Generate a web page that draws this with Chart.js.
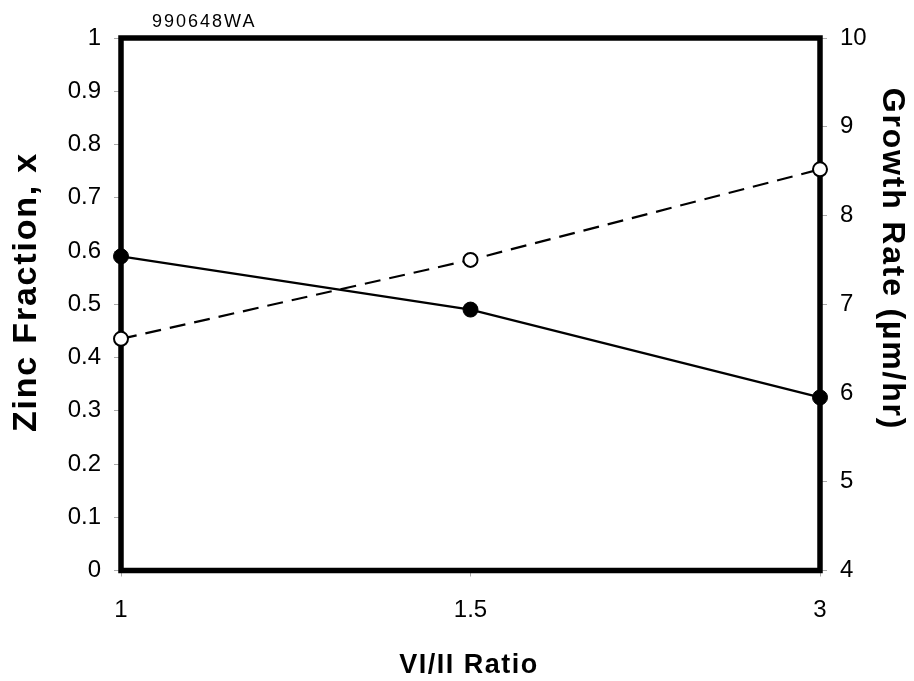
<!DOCTYPE html>
<html>
<head>
<meta charset="utf-8">
<script src="https://cdn.jsdelivr.net/npm/chart.js@4"></script>
<style>
  html, body { margin: 0; padding: 0; background: #fff; }
  #wrap { position: relative; width: 914px; height: 681px; }
</style>
</head>
<body>
<div id="wrap"><canvas id="zincChart" width="914" height="681"></canvas></div>
<script>
// data
const ratioLabels = ['1', '1.5', '3'];
const zincFraction = [0.59, 0.49, 0.325];   // left axis, solid line, filled dots
const growthRate = [6.61, 7.5, 8.52];       // right axis, dashed line, open dots
const leftTicks = [0, 0.1, 0.2, 0.3, 0.4, 0.5, 0.6, 0.7, 0.8, 0.9, 1];
const rightTicks = [4, 5, 6, 7, 8, 9, 10];

const FONT = '"Liberation Sans", Arial, sans-serif';

// thick frame round the plot + the wide-set titles
const framePlugin = {
  id: 'frame',
  beforeDatasetsDraw(chart) {
    const a = chart.chartArea, ctx = chart.ctx;
    ctx.save();
    ctx.strokeStyle = '#000';
    ctx.lineWidth = 5.5;
    ctx.strokeRect(a.left, a.top, a.right - a.left, a.bottom - a.top);
    ctx.restore();
  },
  afterDraw(chart) {
    const ctx = chart.ctx;
    ctx.save();
    ctx.fillStyle = '#000';
    ctx.textBaseline = 'alphabetic';

    ctx.font = '18px ' + FONT;
    ctx.letterSpacing = '2px';
    ctx.textAlign = 'left';
    ctx.fillText('990648WA', 152, 27);

    ctx.font = 'bold 27px ' + FONT;
    ctx.letterSpacing = '1.5px';
    ctx.textAlign = 'center';
    ctx.fillText('VI/II Ratio', 469, 673);

    ctx.save();
    ctx.translate(36, 292);
    ctx.rotate(-Math.PI / 2);
    ctx.font = 'bold 34px ' + FONT;
    ctx.letterSpacing = '1.8px';
    ctx.fillText('Zinc Fraction, x', 0, 0);
    ctx.restore();

    ctx.save();
    ctx.translate(883, 259);
    ctx.rotate(Math.PI / 2);
    ctx.font = 'bold 32px ' + FONT;
    ctx.letterSpacing = '1.8px';
    ctx.fillText('Growth Rate (\u00b5m/hr)', 0, 0);
    ctx.restore();

    ctx.restore();
  }
};

const tickFont = { family: FONT, size: 24 };

new Chart('zincChart', {
  type: 'line',
  data: {
    labels: ratioLabels,
    datasets: [
      {
        label: 'Zinc Fraction',
        data: zincFraction,
        yAxisID: 'y',
        borderColor: '#000',
        borderWidth: 2.2,
        pointRadius: 7.5,
        pointBackgroundColor: '#000',
        pointBorderColor: '#000',
        pointBorderWidth: 1,
        tension: 0,
        clip: false
      },
      {
        label: 'Growth Rate',
        data: growthRate,
        yAxisID: 'y1',
        borderColor: '#000',
        borderWidth: 2.2,
        borderDash: [16, 9],
        pointRadius: 7,
        pointBackgroundColor: '#fff',
        pointBorderColor: '#000',
        pointBorderWidth: 2,
        tension: 0,
        clip: false
      }
    ]
  },
  options: {
    responsive: false,
    animation: false,
    layout: { padding: { top: 38, left: 0, right: 0, bottom: 0 } },
    plugins: {
      legend: { display: false },
      tooltip: { enabled: false }
    },
    scales: {
      x: {
        offset: false,
        grid: { drawOnChartArea: false, tickLength: 6, color: '#aaa', lineWidth: 1 },
        border: { display: false },
        ticks: { color: '#000', font: tickFont, padding: 19, maxRotation: 0 },
        afterFit(s) { s.height = 110.5; }
      },
      y: {
        position: 'left',
        min: 0,
        max: 1,
        afterBuildTicks(s) { s.ticks = leftTicks.map(v => ({ value: v })); },
        grid: { drawOnChartArea: false, tickLength: 7, color: '#aaa', lineWidth: 1 },
        border: { display: false },
        ticks: { color: '#000', font: tickFont, padding: 13, callback: v => String(v) },
        afterFit(s) { s.width = 121; }
      },
      y1: {
        position: 'right',
        min: 4,
        max: 10,
        afterBuildTicks(s) { s.ticks = rightTicks.map(v => ({ value: v })); },
        grid: { drawOnChartArea: false, tickLength: 7, color: '#aaa', lineWidth: 1 },
        border: { display: false },
        ticks: { color: '#000', font: tickFont, padding: 13, callback: v => String(v) },
        afterFit(s) { s.width = 94; }
      }
    }
  },
  plugins: [framePlugin]
});
</script>
</body>
</html>
